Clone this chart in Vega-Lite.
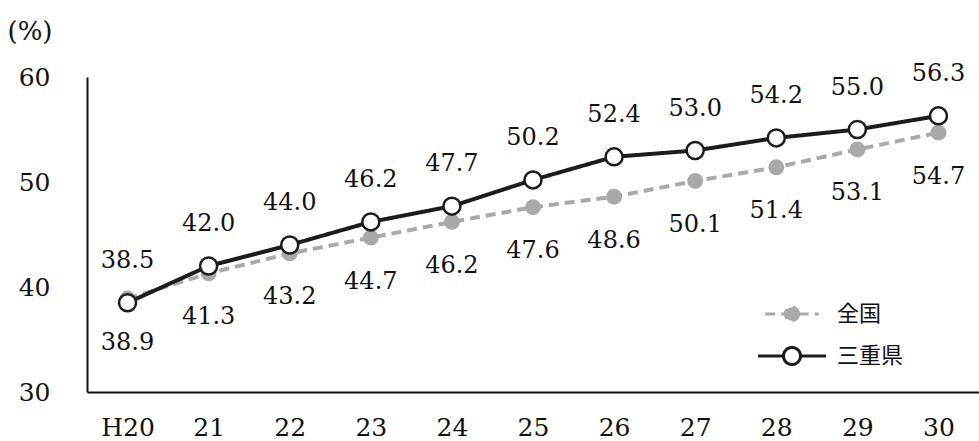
{
  "$schema": "https://vega.github.io/schema/vega-lite/v6.json",
  "width": 892,
  "height": 315,
  "autosize": "none",
  "padding": {"left": 87, "top": 77, "right": 0, "bottom": 49},
  "background": "white",
  "config": {
    "view": {"stroke": null},
    "font": "DejaVu Serif"
  },
  "data": {
    "values": [
      {"year": "H20", "series": "全国", "value": 38.9},
      {"year": "21", "series": "全国", "value": 41.3},
      {"year": "22", "series": "全国", "value": 43.2},
      {"year": "23", "series": "全国", "value": 44.7},
      {"year": "24", "series": "全国", "value": 46.2},
      {"year": "25", "series": "全国", "value": 47.6},
      {"year": "26", "series": "全国", "value": 48.6},
      {"year": "27", "series": "全国", "value": 50.1},
      {"year": "28", "series": "全国", "value": 51.4},
      {"year": "29", "series": "全国", "value": 53.1},
      {"year": "30", "series": "全国", "value": 54.7},
      {"year": "H20", "series": "三重県", "value": 38.5},
      {"year": "21", "series": "三重県", "value": 42.0},
      {"year": "22", "series": "三重県", "value": 44.0},
      {"year": "23", "series": "三重県", "value": 46.2},
      {"year": "24", "series": "三重県", "value": 47.7},
      {"year": "25", "series": "三重県", "value": 50.2},
      {"year": "26", "series": "三重県", "value": 52.4},
      {"year": "27", "series": "三重県", "value": 53.0},
      {"year": "28", "series": "三重県", "value": 54.2},
      {"year": "29", "series": "三重県", "value": 55.0},
      {"year": "30", "series": "三重県", "value": 56.3}
    ]
  },
  "encoding": {
    "x": {
      "field": "year",
      "type": "ordinal",
      "sort": null,
      "scale": {"type": "point", "padding": 0.5},
      "axis": {
        "title": null,
        "labelAngle": 0,
        "labelFont": "DejaVu Serif",
        "labelFontSize": 25,
        "labelColor": "#111",
        "labelPadding": 23,
        "ticks": false,
        "grid": false,
        "domainColor": "#111",
        "domainWidth": 2
      }
    },
    "y": {
      "field": "value",
      "type": "quantitative",
      "scale": {"domain": [30, 60], "nice": false, "zero": false},
      "axis": {
        "values": [30, 40, 50, 60],
        "title": "(%)",
        "titleAngle": 0,
        "titleAlign": "left",
        "titleBaseline": "middle",
        "titleX": -80,
        "titleY": -46,
        "titleFont": "DejaVu Serif",
        "titleFontSize": 26,
        "titleFontWeight": "normal",
        "titleColor": "#111",
        "labelFont": "DejaVu Serif",
        "labelFontSize": 25,
        "labelColor": "#111",
        "labelPadding": 37,
        "ticks": false,
        "grid": false,
        "domainColor": "#111",
        "domainWidth": 2
      }
    }
  },
  "layer": [
    {
      "mark": {"type": "line", "strokeWidth": 4},
      "encoding": {
        "stroke": {
          "field": "series",
          "type": "nominal",
          "scale": {"domain": ["全国", "三重県"], "range": ["#a9a9a9", "#1c1c1c"]},
          "legend": {
            "orient": "none",
            "legendX": 694,
            "legendY": 226,
            "title": null,
            "padding": 0,
            "symbolType": "M-4,0L-1,0M1,0L4,0M1,0A1,1 0 1,1 -1,0A1,1 0 1,1 1,0Z",
            "symbolSize": 324,
            "symbolStrokeWidth": 3,
            "labelOffset": 34,
            "labelFont": "Noto Sans CJK JP",
            "labelFontSize": 22,
            "labelColor": "#111",
            "rowPadding": 14
          }
        },
        "strokeDash": {
          "field": "series",
          "type": "nominal",
          "scale": {"domain": ["全国", "三重県"], "range": [[10, 6], [1, 0]]},
          "legend": null
        }
      }
    },
    {
      "mark": {"type": "point", "filled": false, "strokeWidth": 2.5, "opacity": 1},
      "encoding": {
        "stroke": {"field": "series", "type": "nominal"},
        "fill": {
          "field": "series",
          "type": "nominal",
          "scale": {"domain": ["全国", "三重県"], "range": ["#a9a9a9", "#ffffff"]},
          "legend": null
        },
        "size": {
          "field": "series",
          "type": "nominal",
          "scale": {"domain": ["全国", "三重県"], "range": [180, 290]},
          "legend": null
        }
      }
    },
    {
      "transform": [{"filter": "datum.series === '全国'"}],
      "mark": {"type": "text", "dy": 44, "font": "DejaVu Serif", "fontSize": 24, "color": "#111", "baseline": "middle"},
      "encoding": {"text": {"field": "value", "type": "quantitative", "format": ".1f"}}
    },
    {
      "transform": [{"filter": "datum.series === '三重県'"}],
      "mark": {"type": "text", "dy": -42, "font": "DejaVu Serif", "fontSize": 24, "color": "#111", "baseline": "middle"},
      "encoding": {"text": {"field": "value", "type": "quantitative", "format": ".1f"}}
    }
  ]
}
